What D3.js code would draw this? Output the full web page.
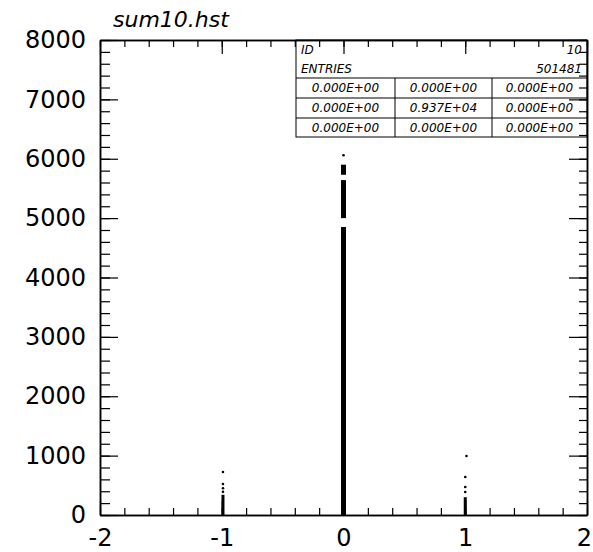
<!DOCTYPE html>
<html><head><meta charset="utf-8">
<script src="https://cdn.jsdelivr.net/npm/d3@7/dist/d3.min.js"></script>
<style>
body{margin:0;background:#fff;}
svg{display:block;}
text{font-family:"DejaVu Sans",sans-serif;fill:#000;}
</style></head>
<body><svg id="c" width="593" height="552"></svg>
<script>
// ---- data ----
const xTickLabels = [-2, -1, 0, 1, 2];
const yTickLabels = [0, 1000, 2000, 3000, 4000, 5000, 6000, 7000, 8000];
// dense vertical runs of scatter points: [x, yFrom, yTo]
const denseRuns = [
  [0, 0, 4850], [0, 5000, 5640], [0, 5730, 5900],
  [-0.99, 0, 340], [1.0, 0, 300]
];
// isolated scatter points: [x, y]
const sparseX = [0, -0.99, -0.99, -0.99, -0.99, 1.0, 1.0, 1.0, 1.01];
const sparseY = [6060, 390, 450, 522, 724, 387, 472, 640, 994];
const title = "sum10.hst";
const statId = ["ID", "10"];
const statEntries = ["ENTRIES", "501481"];
const statCells = [
  ["0.000E+00", "0.000E+00", "0.000E+00"],
  ["0.000E+00", "0.937E+04", "0.000E+00"],
  ["0.000E+00", "0.000E+00", "0.000E+00"]
];

// ---- layout ----
const L = 100, R = 587, T = 40, B = 515;
const svg = d3.select("#c");
const x = d3.scaleLinear().domain([-2, 2]).range([L, R]);
const y = d3.scaleLinear().domain([0, 8000]).range([B, T]);

// title
svg.append("text").attr("x", 113).attr("y", 27)
  .attr("font-size", 22).attr("font-style", "italic").text(title);

// stats box
const bx0 = 296, bx1 = R, colX = [296, 395, 492, 587];
const rowY = [40, 59, 78, 98, 118, 137];
const box = svg.append("g");
box.append("rect").attr("x", bx0).attr("y", rowY[0]).attr("width", bx1 - bx0)
  .attr("height", rowY[5] - rowY[0]).attr("fill", "#fff").attr("stroke", "#000").attr("stroke-width", 1);
[2, 3, 4].forEach(i => box.append("line").attr("x1", bx0).attr("x2", bx1)
  .attr("y1", rowY[i]).attr("y2", rowY[i]).attr("stroke", "#000"));
[1, 2].forEach(j => box.append("line").attr("x1", colX[j]).attr("x2", colX[j])
  .attr("y1", rowY[2]).attr("y2", rowY[5]).attr("stroke", "#000"));
const bt = (t, xx, yy, anchor) => box.append("text").attr("x", xx).attr("y", yy)
  .attr("font-size", 12).attr("font-style", "italic").attr("text-anchor", anchor).text(t);
bt(statId[0], bx0 + 5, 54, "start");
bt(statId[1], bx1 - 5, 54, "end");
bt(statEntries[0], bx0 + 5, 73, "start");
bt(statEntries[1], bx1 - 5, 73, "end");
statCells.forEach((row, i) => row.forEach((t, j) =>
  bt(t, (colX[j] + colX[j + 1]) / 2, rowY[i + 2] + 14, "middle")));

// scatter data
const g = svg.append("g");
g.selectAll("rect.run").data(denseRuns).join("rect").attr("class", "run")
  .attr("x", d => x(d[0]) - (d[0] === 0 ? 2.5 : 1.5))
  .attr("width", d => d[0] === 0 ? 5 : 3)
  .attr("y", d => y(d[2])).attr("height", d => y(d[1]) - y(d[2]))
  .attr("fill", "#000");
g.selectAll("circle.pt").data(sparseX.map((v, i) => [v, sparseY[i]])).join("circle")
  .attr("class", "pt").attr("cx", d => x(d[0])).attr("cy", d => y(d[1]))
  .attr("r", 1.3).attr("fill", "#000");

// axes
const minorX = d3.range(-2, 2.0001, 0.2).map(v => +v.toFixed(2));
const minorY = d3.range(0, 8001, 200);
const fmt = d => String(d);
function style(sel) {
  sel.selectAll("path").attr("stroke", "#000").attr("stroke-width", 1.5);
  sel.selectAll("line").attr("stroke", "#000").attr("stroke-width", 1.2);
  sel.selectAll("text").attr("font-size", 24).attr("fill", "#000")
    .attr("font-family", "DejaVu Sans, sans-serif");
}
svg.append("g").attr("transform", `translate(0,${B})`)
  .call(d3.axisBottom(x).tickValues(minorX).tickSize(-7).tickSizeOuter(0).tickFormat("")).call(style);
const xLab = svg.append("g").attr("transform", `translate(0,${B})`)
  .call(d3.axisBottom(x).tickValues(xTickLabels).tickSize(-14).tickSizeOuter(0).tickPadding(14).tickFormat(fmt)).call(style);
xLab.selectAll(".tick text").filter(d => d === 2).attr("dx", -3);
svg.append("g").attr("transform", `translate(0,${T})`)
  .call(d3.axisTop(x).tickValues(minorX).tickSize(-7).tickSizeOuter(0).tickFormat("")).call(style);
svg.append("g").attr("transform", `translate(0,${T})`)
  .call(d3.axisTop(x).tickValues(xTickLabels).tickSize(-14).tickSizeOuter(0).tickFormat("")).call(style);
svg.append("g").attr("transform", `translate(${L},0)`)
  .call(d3.axisLeft(y).tickValues(minorY).tickSize(-10).tickSizeOuter(0).tickFormat("")).call(style);
svg.append("g").attr("transform", `translate(${L},0)`)
  .call(d3.axisLeft(y).tickValues(yTickLabels).tickSize(-18).tickSizeOuter(0).tickPadding(14).tickFormat(fmt)).call(style);
svg.append("g").attr("transform", `translate(${R},0)`)
  .call(d3.axisRight(y).tickValues(minorY).tickSize(-8).tickSizeOuter(0).tickFormat("")).call(style);
svg.append("g").attr("transform", `translate(${R},0)`)
  .call(d3.axisRight(y).tickValues(yTickLabels).tickSize(-18).tickSizeOuter(0).tickFormat("")).call(style);
</script></body></html>
